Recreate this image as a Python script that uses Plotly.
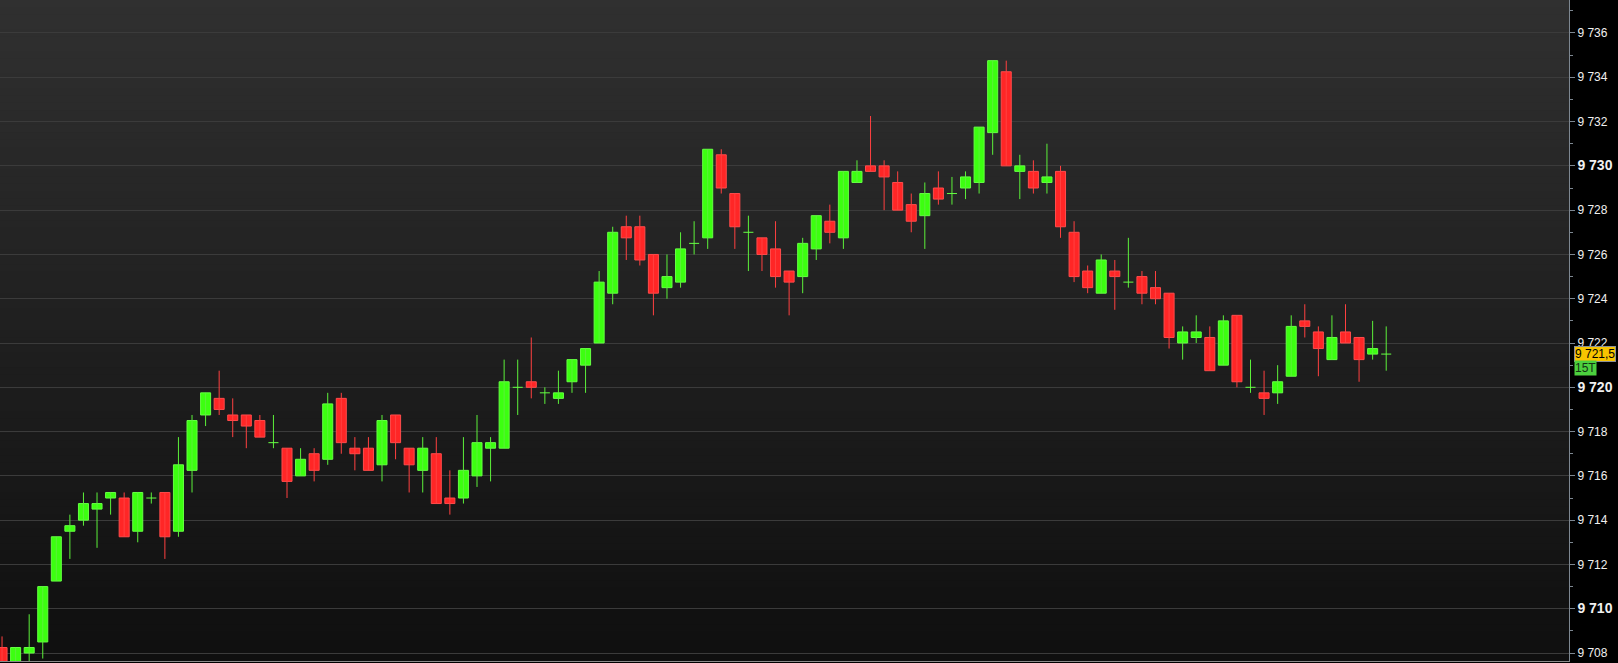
import plotly.graph_objects as go

# ---------------- data ----------------
BAR_INDEX = list(range(103))

OPEN = [9708.25, 9707.25, 9708.0, 9708.5, 9711.25, 9713.5, 9714.0, 9714.5, 9715.0, 9715.0,
        9713.5, 9715.0, 9715.25, 9713.5, 9716.25, 9718.75, 9719.5, 9718.75, 9718.75, 9718.5,
        9717.5, 9717.25, 9716.0, 9717.0, 9716.75, 9719.5, 9717.25, 9717.25, 9716.5, 9718.75,
        9717.25, 9716.25, 9717.0, 9715.0, 9715.0, 9716.0, 9717.25, 9717.25, 9720.0, 9720.25,
        9719.75, 9719.5, 9720.25, 9721.0, 9722.0, 9724.25, 9727.25, 9727.25, 9726.0, 9724.5,
        9724.75, 9726.5, 9726.75, 9730.5, 9728.75, 9727.0, 9726.75, 9726.25, 9725.25, 9725.0,
        9726.25, 9727.5, 9726.75, 9729.25, 9730.0, 9730.0, 9729.25, 9728.25, 9727.75, 9729.0,
        9728.75, 9729.0, 9729.25, 9731.5, 9734.25, 9729.75, 9729.75, 9729.25, 9729.75, 9727.0,
        9725.25, 9724.25, 9725.25, 9724.75, 9725.0, 9724.5, 9724.25, 9722.0, 9722.25, 9722.25,
        9721.0, 9723.25, 9720.0, 9719.75, 9719.75, 9720.5, 9723.0, 9722.5, 9721.25, 9722.5,
        9722.25, 9721.5, 9721.5]

HIGH = [9708.75, 9708.25, 9709.75, 9711.0, 9713.25, 9714.25, 9715.25, 9715.25, 9715.25, 9715.25,
        9715.25, 9715.25, 9715.25, 9717.75, 9718.75, 9719.75, 9720.75, 9719.5, 9718.75, 9718.75,
        9718.75, 9717.25, 9717.25, 9717.25, 9719.75, 9719.75, 9717.75, 9717.75, 9718.75, 9718.75,
        9717.25, 9717.75, 9717.75, 9716.25, 9717.75, 9718.75, 9717.75, 9721.25, 9721.25, 9722.25,
        9720.0, 9720.75, 9721.25, 9721.75, 9725.25, 9727.25, 9727.75, 9727.75, 9726.0, 9726.0,
        9727.0, 9727.5, 9730.75, 9730.75, 9728.75, 9727.75, 9726.75, 9727.5, 9725.25, 9726.75,
        9727.75, 9728.25, 9729.75, 9730.25, 9732.25, 9730.25, 9729.75, 9728.75, 9729.25, 9729.75,
        9729.5, 9729.75, 9731.75, 9734.75, 9734.75, 9730.5, 9730.25, 9731.0, 9730.0, 9727.5,
        9725.5, 9726.0, 9725.75, 9726.75, 9725.25, 9725.25, 9724.25, 9722.75, 9723.25, 9722.75,
        9723.25, 9723.25, 9721.25, 9720.75, 9721.0, 9723.25, 9723.75, 9722.75, 9723.25, 9723.75,
        9722.25, 9723.0, 9722.75]

LOW = [9707.0, 9707.0, 9707.5, 9707.75, 9711.25, 9712.25, 9713.75, 9712.75, 9714.25, 9713.25,
       9713.0, 9714.75, 9712.25, 9713.25, 9715.25, 9718.25, 9718.75, 9717.75, 9717.25, 9717.75,
       9717.25, 9715.0, 9716.0, 9715.75, 9716.5, 9717.0, 9716.25, 9716.25, 9715.75, 9716.75,
       9715.25, 9715.25, 9714.75, 9714.25, 9714.75, 9715.5, 9715.75, 9717.25, 9718.75, 9719.5,
       9719.25, 9719.25, 9719.75, 9719.75, 9722.0, 9723.75, 9725.75, 9725.5, 9723.25, 9724.0,
       9724.5, 9726.0, 9726.25, 9728.75, 9726.25, 9725.25, 9725.25, 9724.5, 9723.25, 9724.25,
       9725.75, 9726.5, 9726.25, 9729.25, 9729.75, 9728.0, 9728.0, 9727.0, 9726.25, 9728.25,
       9728.25, 9728.5, 9728.75, 9730.5, 9730.0, 9728.5, 9728.75, 9728.75, 9726.75, 9724.75,
       9724.25, 9724.25, 9723.5, 9724.5, 9723.75, 9723.75, 9721.75, 9721.25, 9722.0, 9720.75,
       9721.0, 9720.0, 9719.75, 9718.75, 9719.25, 9720.5, 9722.25, 9720.5, 9721.25, 9722.0,
       9720.25, 9721.25, 9720.75]

CLOSE = [9707.25, 9708.25, 9708.25, 9711.0, 9713.25, 9713.75, 9714.75, 9714.75, 9715.25, 9713.25,
         9715.25, 9715.0, 9713.25, 9716.5, 9718.5, 9719.75, 9719.0, 9718.5, 9718.25, 9717.75,
         9717.5, 9715.75, 9716.75, 9716.25, 9719.25, 9717.5, 9717.0, 9716.25, 9718.5, 9717.5,
         9716.5, 9717.25, 9714.75, 9714.75, 9716.25, 9717.5, 9717.5, 9720.25, 9720.0, 9720.0,
         9719.75, 9719.75, 9721.25, 9721.75, 9724.75, 9727.0, 9726.75, 9725.75, 9724.25, 9725.0,
         9726.25, 9726.5, 9730.75, 9729.0, 9727.25, 9727.0, 9726.0, 9725.0, 9724.75, 9726.5,
         9727.75, 9727.0, 9729.75, 9729.75, 9729.75, 9729.5, 9728.0, 9727.5, 9728.75, 9728.5,
         9728.75, 9729.5, 9731.75, 9734.75, 9730.0, 9730.0, 9729.0, 9729.5, 9727.25, 9725.0,
         9724.5, 9725.75, 9725.0, 9724.75, 9724.25, 9724.0, 9722.25, 9722.5, 9722.5, 9720.75,
         9723.0, 9720.25, 9720.0, 9719.5, 9720.25, 9722.75, 9722.75, 9721.75, 9722.25, 9722.0,
         9721.25, 9721.75, 9721.5]

TICK_VALUES = [9708, 9710, 9712, 9714, 9716, 9718, 9720, 9722, 9724, 9726, 9728, 9730, 9732, 9734, 9736]
TICK_LABELS = ["9 708", "9 710", "9 712", "9 714", "9 716", "9 718", "9 720", "9 722",
               "9 724", "9 726", "9 728", "9 730", "9 732", "9 734", "9 736"]
BOLD_TICKS = [9710, 9720, 9730]
MINOR_TICKS = [9709, 9711, 9713, 9715, 9717, 9719, 9721, 9723, 9725, 9727, 9729, 9731, 9733, 9735, 9737]
LAST_PRICE_LABEL = "9 721,5"
TIMEFRAME_LABEL = "15T"

# ---------------- styling ----------------
UP_FILL, UP_LINE, UP_WICK = "#3cff10", "#66ff44", "#5cf03a"
DN_FILL, DN_LINE, DN_WICK = "#ff2626", "#ff4c4c", "#ff4040"
BODY_WIDTH = 0.74
FONT = "Arial, Liberation Sans, sans-serif"
AXIS_COLOR = "#7d8791"

up_idx = [i for i in BAR_INDEX if CLOSE[i] > OPEN[i]]
dn_idx = [i for i in BAR_INDEX if CLOSE[i] < OPEN[i]]
doji_idx = [i for i in BAR_INDEX if CLOSE[i] == OPEN[i]]
green_idx = up_idx + doji_idx


def wick_xy(idx):
    xs, ys = [], []
    for i in idx:
        xs += [BAR_INDEX[i], BAR_INDEX[i], None]
        ys += [LOW[i], HIGH[i], None]
    return xs, ys


fig = go.Figure()

# wicks (drawn first, bodies cover them)
wx, wy = wick_xy(green_idx)
fig.add_trace(go.Scatter(x=wx, y=wy, mode="lines", line=dict(color=UP_WICK, width=1),
                         hoverinfo="skip", showlegend=False))
wx, wy = wick_xy(dn_idx)
fig.add_trace(go.Scatter(x=wx, y=wy, mode="lines", line=dict(color=DN_WICK, width=1),
                         hoverinfo="skip", showlegend=False))

# bodies
fig.add_trace(go.Bar(
    x=[BAR_INDEX[i] for i in up_idx],
    base=[OPEN[i] for i in up_idx],
    y=[CLOSE[i] - OPEN[i] for i in up_idx],
    width=BODY_WIDTH, marker=dict(color=UP_FILL, line=dict(color=UP_LINE, width=1)),
    hoverinfo="skip", showlegend=False,
))
fig.add_trace(go.Bar(
    x=[BAR_INDEX[i] for i in dn_idx],
    base=[CLOSE[i] for i in dn_idx],
    y=[OPEN[i] - CLOSE[i] for i in dn_idx],
    width=BODY_WIDTH, marker=dict(color=DN_FILL, line=dict(color=DN_LINE, width=1)),
    hoverinfo="skip", showlegend=False,
))

# doji bodies: a horizontal tick at open == close
dx, dy = [], []
for i in doji_idx:
    dx += [BAR_INDEX[i] - BODY_WIDTH / 2, BAR_INDEX[i] + BODY_WIDTH / 2, None]
    dy += [OPEN[i], CLOSE[i], None]
fig.add_trace(go.Scatter(x=dx, y=dy, mode="lines", line=dict(color=UP_LINE, width=1),
                         hoverinfo="skip", showlegend=False))

# vertical gradient background of the plotting area
shapes = []
n_bands = 90
for k in range(n_bands):
    y0 = k / n_bands
    y1 = min((k + 1) / n_bands + 0.002, 1)
    v = int(round(15 + 33 * (k + 0.5) / n_bands))
    shapes.append(dict(type="rect", xref="paper", yref="paper", x0=0, x1=1, y0=y0, y1=y1,
                       fillcolor=f"rgb({v},{v},{v})", line=dict(width=0), layer="below"))

ticktext = []
for v, t in zip(TICK_VALUES, TICK_LABELS):
    if v in BOLD_TICKS:
        ticktext.append(f"<span style='font-size:14px'><b>{t}</b></span>")
    else:
        ticktext.append(t)

fig.update_layout(
    width=1618, height=663,
    margin=dict(l=0, r=49, t=0, b=2, pad=0),
    paper_bgcolor="#000000",
    plot_bgcolor="#000000",
    barmode="overlay",
    shapes=shapes,
    showlegend=False,
    font=dict(family=FONT, color="#e8e8e8", size=12),
    xaxis=dict(
        range=[-0.15, 115.47],
        showgrid=False, zeroline=False, showticklabels=False, ticks="",
        showline=True, linecolor="#8a8a8a", linewidth=1, fixedrange=True,
    ),
    yaxis=dict(
        side="right", range=[9707.64, 9737.49],
        tickmode="array", tickvals=TICK_VALUES, ticktext=ticktext,
        showgrid=True, gridcolor="#3b3b3b", gridwidth=1, zeroline=False,
        showline=True, linecolor=AXIS_COLOR, linewidth=1,
        ticks="outside", ticklen=5, tickcolor=AXIS_COLOR, tickwidth=1,
        tickfont=dict(family=FONT, color="#f0f0f0", size=12),
        minor=dict(tickmode="array", tickvals=MINOR_TICKS, ticks="outside", ticklen=3,
                   tickcolor=AXIS_COLOR, tickwidth=1, showgrid=False),
        fixedrange=True,
    ),
    annotations=[
        dict(x=1, xref="paper", xanchor="left", xshift=5, y=CLOSE[-1], yref="y", yanchor="middle",
             text=LAST_PRICE_LABEL, showarrow=False,
             font=dict(family=FONT, size=12, color="#000000"),
             bgcolor="#f7c400", bordercolor="#8a9098", borderwidth=1, borderpad=0),
        dict(x=1, xref="paper", xanchor="left", xshift=5, y=CLOSE[-1], yref="y", yanchor="middle",
             yshift=-14, text=TIMEFRAME_LABEL, showarrow=False,
             font=dict(family=FONT, size=12, color="#143314"),
             bgcolor="#4cd13e", borderpad=0),
    ],
)

fig.write_html("out.html", config={"displayModeBar": False},
               post_script="document.body.style.margin='0px';document.body.style.overflow='hidden';")
